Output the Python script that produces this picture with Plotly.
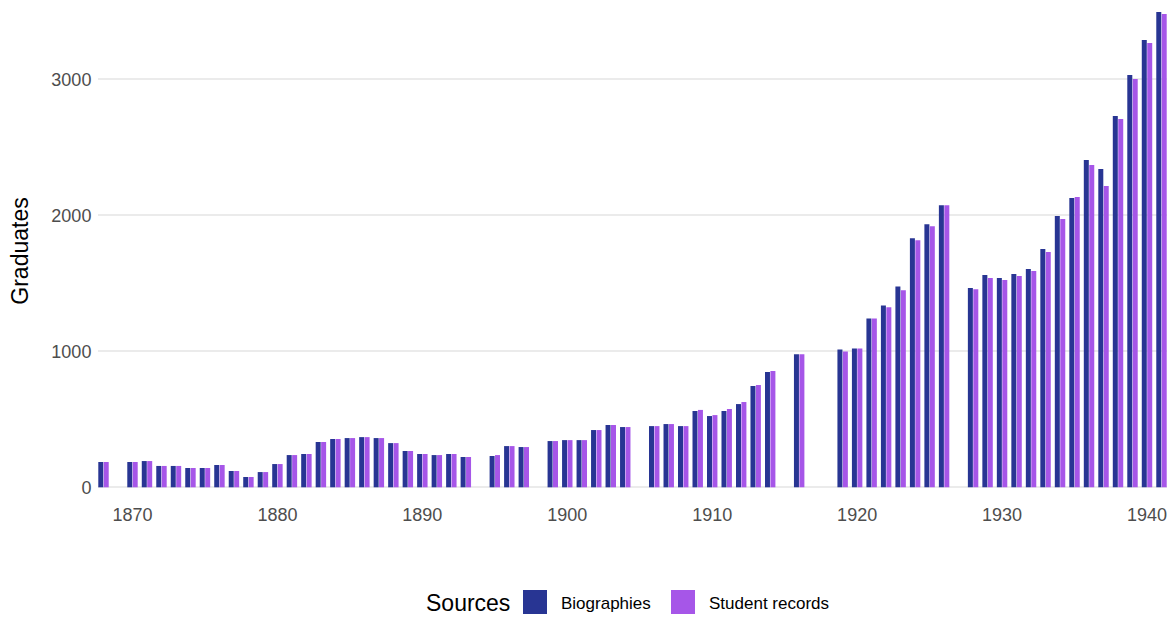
import plotly.graph_objects as go

years = [1868, 1870, 1871, 1872, 1873, 1874, 1875, 1876, 1877, 1878, 1879,
         1880, 1881, 1882, 1883, 1884, 1885, 1886, 1887, 1888, 1889,
         1890, 1891, 1892, 1893, 1895, 1896, 1897, 1899,
         1900, 1901, 1902, 1903, 1904, 1906, 1907, 1908, 1909,
         1910, 1911, 1912, 1913, 1914, 1916, 1919,
         1920, 1921, 1922, 1923, 1924, 1925, 1926, 1928, 1929,
         1930, 1931, 1932, 1933, 1934, 1935, 1936, 1937, 1938, 1939,
         1940, 1941]

biographies = [186, 186, 193, 157, 157, 142, 142, 164, 120, 76, 112,
               171, 237, 245, 333, 355, 362, 369, 362, 325, 267,
               245, 237, 245, 223, 230, 303, 296, 340,
               347, 347, 421, 458, 443, 450, 465, 450, 561,
               524, 561, 612, 745, 848, 978, 1013,
               1021, 1242, 1337, 1477, 1831, 1934, 2074, 1465, 1561,
               1539, 1569, 1605, 1752, 1995, 2127, 2407, 2341, 2730, 3032,
               3289, 3495]

student_records = [186, 186, 193, 157, 157, 142, 142, 164, 120, 76, 112,
                   171, 237, 245, 333, 355, 362, 369, 362, 325, 267,
                   245, 237, 245, 223, 237, 303, 296, 340,
                   347, 347, 421, 458, 443, 450, 465, 450, 569,
                   531, 576, 627, 752, 855, 978, 999,
                   1021, 1242, 1323, 1448, 1816, 1919, 2074, 1457, 1539,
                   1525, 1554, 1591, 1730, 1973, 2135, 2370, 2216, 2708, 3002,
                   3267, 3480]

x_ticks = [1870, 1880, 1890, 1900, 1910, 1920, 1930, 1940]
y_ticks = [0, 1000, 2000, 3000]
series_names = ["Biographies", "Student records"]
colors = ["#283593", "#a656e8"]
legend_title = "Sources"

W, H = 1175, 617
ML, MR, MT, MB = 98, 8, 5, 120
PW, PH = W - ML - MR, H - MT - MB

def px_x(p):
    return (p - ML) / PW

def px_y(p):
    return (H - MB - p) / PH

FONT = "Liberation Sans, Arial, Helvetica, sans-serif"

fig = go.Figure()
for name, vals, col in zip(series_names, [biographies, student_records], colors):
    fig.add_trace(go.Bar(x=years, y=vals, name=name, marker_color=col,
                         marker_line_width=0, showlegend=False))

fig.update_layout(
    width=W, height=H,
    margin=dict(l=ML, r=MR, t=MT, b=MB),
    barmode="group", bargap=0.25, bargroupgap=0.08,
    plot_bgcolor="white", paper_bgcolor="white",
    font=dict(family=FONT, color="#4d4d4d"),
    xaxis=dict(range=[1867.62, 1941.38], tickvals=x_ticks,
               ticktext=[str(t) for t in x_ticks],
               showgrid=False, zeroline=False, showline=False,
               tickfont=dict(size=18, color="#4d4d4d"),
               ticks="outside", ticklen=1, tickcolor="rgba(0,0,0,0)"),
    yaxis=dict(range=[-71.3, 3546.3], tickvals=y_ticks,
               ticktext=[str(t) for t in y_ticks],
               showgrid=True, gridcolor="#ebebeb", gridwidth=1.6,
               zeroline=False, showline=False,
               tickfont=dict(size=18, color="#4d4d4d"),
               ticks="outside", ticklen=2, tickcolor="rgba(0,0,0,0)",
               title=dict(text="Graduates", font=dict(size=23, color="black"),
                          standoff=16)),
)

# Legend drawn manually to match large square keys
annots = [dict(text=legend_title, x=px_x(424), y=px_y(603), xref="paper", yref="paper",
               xanchor="left", yanchor="middle", showarrow=False,
               font=dict(size=23, color="black", family=FONT))]
shapes = []
key_x = [523, 671]
text_x = [559, 707]
for kx, tx, name, col in zip(key_x, text_x, series_names, colors):
    shapes.append(dict(type="rect", xref="paper", yref="paper",
                       x0=px_x(kx), x1=px_x(kx + 24), y0=px_y(614), y1=px_y(590),
                       fillcolor=col, line=dict(width=0)))
    annots.append(dict(text=name, x=px_x(tx), y=px_y(603), xref="paper", yref="paper",
                       xanchor="left", yanchor="middle", showarrow=False,
                       font=dict(size=17, color="black", family=FONT)))
fig.update_layout(annotations=annots, shapes=shapes)

fig.write_html("out.html", config={"displayModeBar": False},
               post_script="document.body.style.margin='0';document.body.style.overflow='hidden';")
